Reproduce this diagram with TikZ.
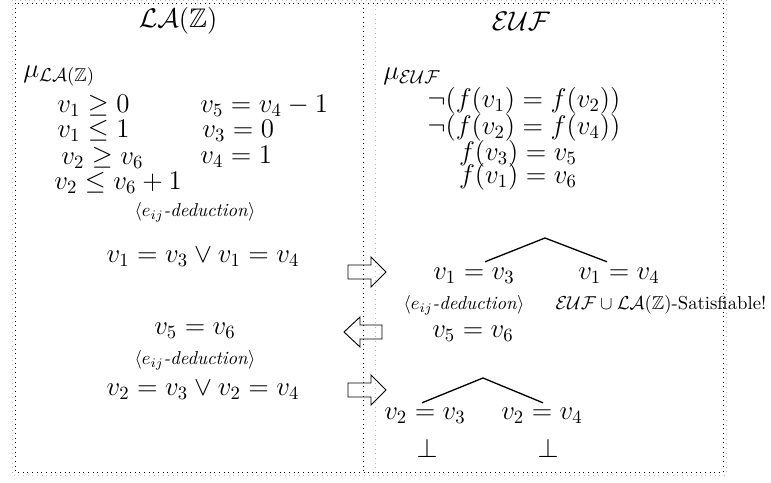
\documentclass[tikz,border=0pt]{standalone}
\usepackage{amsmath,amssymb}
\usepackage{tikz}
\usetikzlibrary{calc}
\tikzset{
  fr/.style={dotted,line width=0.5pt},
  frg/.style={dotted,gray!55,line width=0.5pt},
  fat/.style={line width=0.5pt},
  br/.style={line width=0.7pt},
  bg/.style={font=\Large,inner sep=0pt},
  sm/.style={font=\normalsize,inner sep=0pt}
}
\newcommand{\fatr}[2]{\draw[fat] (#1,#2-7) -- (#1+23,#2-7) -- (#1+23,#2-15) -- (#1+38,#2) -- (#1+23,#2+15) -- (#1+23,#2+7) -- (#1,#2+7) -- cycle;}
\newcommand{\fatl}[2]{\draw[fat] (#1,#2-7) -- (#1-22,#2-7) -- (#1-22,#2-15) -- (#1-38,#2) -- (#1-22,#2+15) -- (#1-22,#2+7) -- (#1,#2+7) -- cycle;}

\begin{document}
\begin{tikzpicture}[x=0.535pt,y=-0.535pt]
\useasboundingbox (0,0) rectangle (771,483);
% frames
\draw[frg] (12,0) rectangle (726,475);
\draw[frg] (375,0) -- (375,475);
\draw[fr] (15,3) rectangle (723,472);
\draw[fr] (363,3) -- (363,472);
% LA(Z) side
\node[bg] (tla) at (178,21) {$\mathcal{LA}(\mathbb{Z})$};
\node[bg,anchor=west] (mula) at (23,76) {$\mu_{\mathcal{LA}(\mathbb{Z})}$};
\node[bg,anchor=west] (la1) at (57,106) {$v_1 \geq 0$};
\node[bg,anchor=west] (la2) at (57,131) {$v_1 \leq 1$};
\node[bg,anchor=west] (la3) at (61,158) {$v_2 \geq v_6$};
\node[bg,anchor=west] (la4) at (54,183) {$v_2 \leq v_6 + 1$};
\node[bg,anchor=west] (la5) at (200,106) {$v_5 = v_4 - 1$};
\node[bg,anchor=west] (la6) at (202,131) {$v_3 = 0$};
\node[bg,anchor=west] (la7) at (200,157) {$v_4 = 1$};
\node[sm] (ded1) at (195,212) {$\langle e_{ij}$\textit{-deduction}$\rangle$};
\node[bg] (dis1) at (203,257) {$v_1 = v_3 \vee v_1 = v_4$};
\node[bg] (eqa) at (195,331) {$v_5 = v_6$};
\node[sm] (ded2) at (195,360) {$\langle e_{ij}$\textit{-deduction}$\rangle$};
\node[bg] (dis2) at (203,390) {$v_2 = v_3 \vee v_2 = v_4$};
% EUF side
\node[bg] (teuf) at (521,21) {$\mathcal{EUF}$};
\node[bg,anchor=west] (mueuf) at (383,76) {$\mu_{\mathcal{EUF}}$};
\node[bg] (eu1) at (524,101) {$\neg(f(v_1) = f(v_2))$};
\node[bg] (eu2) at (524,128) {$\neg(f(v_2) = f(v_4))$};
\node[bg] (eu3) at (518,154) {$f(v_3) = v_5$};
\node[bg] (eu4) at (518,177) {$f(v_1) = v_6$};
\coordinate (ap1) at (545,238);
\node[bg] (c11) at (474,276) {$v_1 = v_3$};
\node[bg] (c12) at (619,276) {$v_1 = v_4$};
\draw[br] (ap1) -- ($(c11.north)+(11,-6)$);
\draw[br] (ap1) -- ($(c12.north)+(-12,-6)$);
\node[sm] (ded3) at (464,305) {$\langle e_{ij}$\textit{-deduction}$\rangle$};
\node[sm] (sat) at (661,305) {$\mathcal{EUF}\cup\mathcal{LA}(\mathbb{Z})$-Satisfiable!};
\node[bg] (eqb) at (473,334) {$v_5 = v_6$};
\coordinate (ap2) at (483,378);
\node[bg] (c21) at (425,416) {$v_2 = v_3$};
\node[bg] (c22) at (542,416) {$v_2 = v_4$};
\draw[br] (ap2) -- ($(c21.north)+(-3,-5)$);
\draw[br] (ap2) -- ($(c22.north)+(1,-5)$);
\node[bg] (bot1) at (427,448) {$\bot$};
\node[bg] (bot2) at (548,448) {$\bot$};
% exchange arrows
\fatr{348}{272}
\fatl{382}{332}
\fatr{348}{390}
\end{tikzpicture}
\end{document}
